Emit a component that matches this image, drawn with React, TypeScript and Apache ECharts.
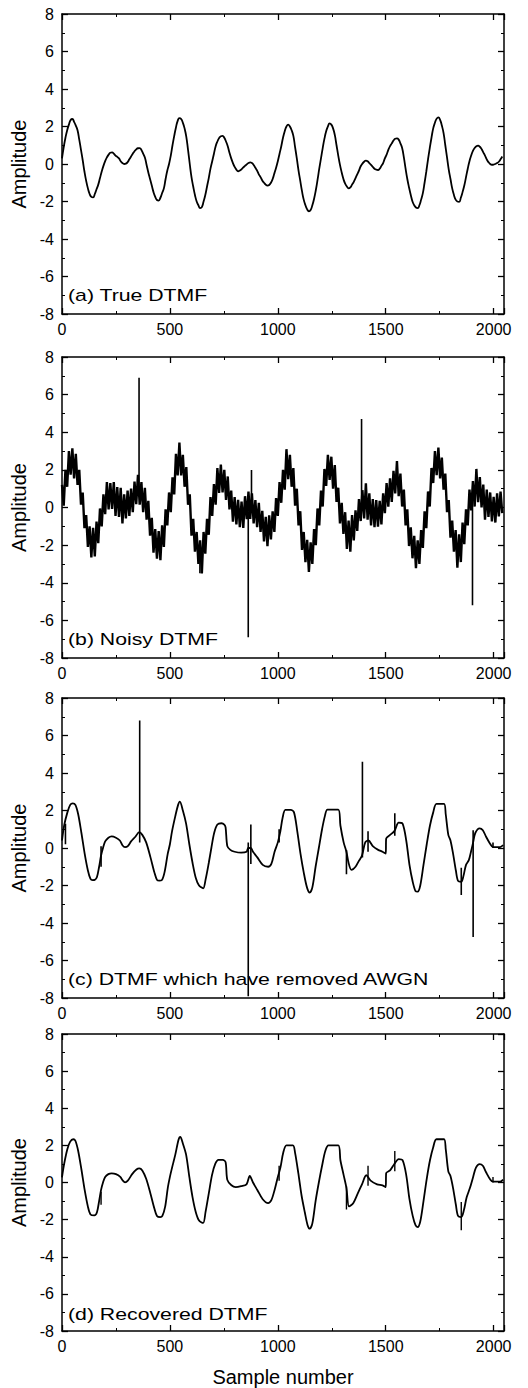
import React, { useEffect, useRef } from "react";
import * as echarts from "echarts";

// ---------- data ----------
const STEP = 8; // sample spacing of the dense arrays
const X_MAX = 2048;
const Y_TICKS = [-8, -6, -4, -2, 0, 2, 4, 6, 8];
const X_TICKS = [0, 500, 1000, 1500, 2000];

// (a) True DTMF, one value every 8 samples
const TRUE_DTMF = [
  0.3, 0.9, 1.4, 1.8, 2.1, 2.35, 2.4, 2.25, 2.05, 1.8, 1.3, 0.75, 0.2, -0.4, -0.9, -1.3,
  -1.6, -1.75, -1.78, -1.6, -1.35, -1.1, -0.75, -0.4, -0.1, 0.15, 0.35, 0.5, 0.6, 0.62, 0.55, 0.45,
  0.38, 0.3, 0.15, 0.05, 0.0, 0.02, 0.1, 0.25, 0.4, 0.55, 0.68, 0.78, 0.84, 0.85, 0.75, 0.55,
  0.35, -0.05, -0.45, -0.8, -1.15, -1.5, -1.75, -1.92, -1.95, -1.8, -1.55, -1.3, -0.8, -0.35, 0.0, 0.45,
  1.0, 1.5, 1.95, 2.3, 2.45, 2.4, 2.2, 1.9, 1.45, 0.75, 0.0, -0.7, -1.2, -1.65, -2.0, -2.2,
  -2.35, -2.3, -2.0, -1.65, -1.2, -0.75, -0.25, 0.15, 0.55, 0.95, 1.2, 1.38, 1.48, 1.5, 1.4, 1.2,
  0.95, 0.6, 0.3, 0.05, -0.15, -0.3, -0.39, -0.35, -0.28, -0.18, -0.1, -0.02, 0.05, 0.09, 0.05, -0.05,
  -0.2, -0.35, -0.55, -0.7, -0.88, -1.0, -1.1, -1.15, -1.12, -1.0, -0.8, -0.5, -0.2, 0.15, 0.55, 0.95,
  1.4, 1.75, 2.0, 2.1, 2.0, 1.8, 1.5, 0.9, 0.3, -0.35, -0.9, -1.45, -1.9, -2.2, -2.42, -2.52,
  -2.45, -2.2, -1.85, -1.4, -0.85, -0.25, 0.3, 0.85, 1.35, 1.75, 2.0, 2.17, 2.1, 1.9, 1.55, 1.0,
  0.45, -0.05, -0.45, -0.8, -1.05, -1.2, -1.3, -1.25, -1.1, -0.95, -0.75, -0.55, -0.35, -0.12, 0.02, 0.12,
  0.18, 0.15, 0.05, -0.05, -0.15, -0.25, -0.3, -0.32, -0.25, -0.1, 0.05, 0.3, 0.5, 0.75, 0.95, 1.1,
  1.25, 1.35, 1.37, 1.3, 1.1, 0.85, 0.35, -0.25, -0.8, -1.25, -1.65, -2.0, -2.2, -2.32, -2.35, -2.2,
  -1.9, -1.55, -1.0, -0.4, 0.25, 0.85, 1.4, 1.9, 2.2, 2.42, 2.49, 2.35, 2.05, 1.65, 1.0, 0.35,
  -0.3, -0.8, -1.3, -1.65, -1.9, -2.0, -2.02, -1.8, -1.5, -1.15, -0.7, -0.25, 0.15, 0.45, 0.7, 0.85,
  0.95, 0.98, 0.92, 0.8, 0.62, 0.45, 0.25, 0.1, 0.0, -0.04, -0.03, 0.0, 0.05, 0.12, 0.25, 0.4,
];

// (b) Noisy DTMF, one value every 8 samples
const NOISY_DTMF = [
  1.2, 0.1, 2.0, 1.1, 3.0, 1.75, 3.15, 1.55, 2.85, 1.2, 2.0, 0.15, 0.8, -1.1, -0.4, -2.1,
  -1.0, -2.65, -1.08, -2.6, -0.75, -1.9, -0.05, -1.0, 0.7, -0.35, 1.35, -0.1, 1.3, -0.08, 1.35, -0.45,
  1.08, -0.5, 1.05, -0.85, 0.7, -0.58, 0.9, -0.45, 1.0, -0.25, 1.38, 0.18, 1.74, 0.15, 1.35, -0.25,
  1.05, -0.65, 0.35, -1.5, -0.55, -2.4, -1.15, -2.72, -1.25, -2.8, -0.95, -2.1, -0.1, -0.95, 0.8, -0.25,
  1.6, 0.7, 2.85, 1.7, 3.45, 1.7, 2.8, 1.1, 2.15, 0.15, 0.7, -1.5, -0.6, -2.35, -1.3, -3.0,
  -1.75, -3.5, -1.3, -2.45, -0.6, -1.45, 0.55, -0.45, 1.25, 0.15, 2.1, 0.78, 2.28, 0.8, 2.0, 0.4,
  1.65, -0.1, 0.9, -0.75, 0.55, -0.9, 0.41, -1.05, 0.32, -1.08, 0.6, -0.62, 0.85, -0.61, 0.75, -0.85,
  0.4, -1.05, 0.25, -1.3, -0.18, -1.8, -0.5, -2.05, -0.42, -1.7, -0.2, -1.3, 0.5, -0.45, 1.35, 0.25,
  2.0, 0.95, 3.1, 1.5, 2.8, 1.1, 2.1, 0.1, 1.0, -0.95, -0.2, -2.25, -1.3, -2.9, -1.72, -3.42,
  -1.85, -3.0, -1.15, -2.0, -0.05, -0.95, 0.9, 0.05, 2.05, 1.15, 2.8, 1.47, 2.7, 1.0, 2.25, 0.3,
  1.05, -0.85, 0.25, -1.4, -0.25, -2.2, -0.7, -2.35, -0.4, -1.75, -0.15, -1.25, 0.45, -0.72, 0.92, -0.58,
  1.28, -0.65, 0.75, -0.95, 0.45, -1.05, 0.4, -1.02, 0.35, -0.9, 0.75, -0.3, 1.3, 0.05, 1.55, 0.3,
  1.95, 0.75, 2.47, 0.6, 1.8, 0.05, 0.95, -0.95, -0.1, -2.05, -1.05, -2.7, -1.5, -3.22, -1.75, -3.0,
  -1.2, -2.15, -0.2, -1.1, 0.85, 0.05, 2.1, 1.3, 3.0, 1.72, 3.19, 1.55, 2.65, 0.95, 1.8, -0.25,
  0.4, -1.6, -0.7, -2.35, -1.2, -3.2, -1.42, -2.9, -0.8, -1.95, -0.1, -0.95, 0.95, -0.15, 1.4, 0.05,
  2.05, 0.28, 1.62, 0.0, 1.22, -0.65, 0.95, -0.5, 0.8, -0.74, 0.57, -0.8, 0.75, -0.48, 0.85, -0.3,
];
// impulsive outliers in (b): [sample, from, to]
const NOISY_SPIKES = [
  [357, 0.9, 6.9],
  [639, -2.3, -3.5],
  [863, -0.2, -6.9],
  [878, 0.0, 2.0],
  [1388, 0.0, 4.7],
  [1902, 0.5, -5.2],
];

// (c) DTMF which have removed AWGN: [sample, amplitude]
const DENOISED = [
  [0, 0.4], [10, 1.2], [25, 1.9], [38, 2.3], [50, 2.38], [62, 2.3], [75, 1.8], [90, 0.8], [105, -0.3],
  [120, -1.2], [132, -1.65], [142, -1.71], [152, -1.7], [162, -1.55], [172, -1.0], [181, -0.4], [190, 0.0],
  [200, 0.35], [215, 0.55], [230, 0.62], [250, 0.55], [268, 0.4], [280, 0.15], [292, 0.05], [305, 0.1],
  [320, 0.35], [340, 0.6], [358, 0.85], [372, 0.7], [390, 0.3], [410, -0.5], [428, -1.3], [440, -1.7],
  [451, -1.74], [462, -1.72], [475, -1.3], [490, -0.3], [500, 0.2], [510, 0.9], [525, 1.7], [538, 2.3],
  [546, 2.47], [560, 2.0], [575, 1.3], [590, 0.2], [605, -0.8], [620, -1.6], [635, -2.0], [654, -2.15],
  [665, -1.7], [680, -0.8], [692, 0.0], [705, 0.8], [720, 1.25], [739, 1.32], [752, 1.25], [758, 1.1],
  [766, 0.1], [780, -0.1], [800, -0.2], [830, -0.25], [855, -0.2], [863, 0.0], [875, 0.0], [885, -0.2],
  [905, -0.5], [930, -0.9], [955, -1.0], [970, -0.85], [985, -0.2], [1000, 0.3], [1012, 0.9], [1022, 1.6],
  [1035, 2.03], [1060, 2.03], [1075, 1.9], [1090, 0.9], [1105, -0.3], [1120, -1.3], [1135, -2.1],
  [1148, -2.38], [1160, -2.1], [1175, -1.0], [1190, 0.0], [1205, 1.0], [1218, 1.7], [1230, 2.05],
  [1280, 2.05], [1290, 1.2], [1305, 0.3], [1318, -0.2], [1328, -0.8], [1341, -1.17], [1360, -1.0],
  [1375, -0.7], [1390, -0.4], [1405, 0.3], [1420, 0.4], [1440, 0.1], [1465, -0.1], [1485, -0.2],
  [1500, -0.3], [1502, 0.5], [1520, 0.7], [1540, 0.9], [1560, 1.35], [1578, 1.3], [1595, 0.4],
  [1610, -0.9], [1625, -1.8], [1638, -2.3], [1648, -2.33], [1660, -2.0], [1675, -0.9], [1690, 0.2],
  [1705, 1.2], [1720, 1.9], [1735, 2.35], [1770, 2.35], [1778, 1.8], [1790, 0.7], [1800, 0.4],
  [1812, -0.3], [1825, -1.2], [1835, -1.75], [1850, -1.8], [1860, -1.5], [1872, -0.9], [1885, -0.65],
  [1895, -0.2], [1905, 0.3], [1915, 0.8], [1935, 1.05], [1950, 0.95], [1965, 0.6], [1985, 0.2],
  [1997, 0.05], [2010, 0.05], [2030, 0.05], [2044, 0.15],
];
const DENOISED_SPIKES = [
  [16, 0.2, 1.3],
  [181, 0.1, -1.0],
  [360, 0.3, 6.8],
  [863, 0.3, -7.9],
  [875, 1.25, -0.85],
  [1006, 0.3, 1.0],
  [1318, -0.1, -1.4],
  [1392, -0.5, 4.6],
  [1418, -0.2, 0.9],
  [1542, 0.65, 1.85],
  [1850, -1.05, -2.5],
  [1905, 0.95, -4.75],
  [1997, 0.0, 0.3],
];

// (d) Recovered DTMF: [sample, amplitude]
const RECOVERED = [
  [0, 0.28], [10, 1.0], [25, 1.8], [38, 2.2], [52, 2.33], [62, 2.25], [75, 1.7], [90, 0.7], [105, -0.4],
  [120, -1.3], [132, -1.72], [150, -1.77], [162, -1.6], [172, -1.0], [181, -0.4], [190, 0.0], [200, 0.3],
  [215, 0.45], [230, 0.49], [250, 0.45], [270, 0.3], [282, 0.1], [292, 0.01], [305, 0.1], [325, 0.45],
  [345, 0.7], [358, 0.76], [372, 0.65], [390, 0.2], [410, -0.6], [428, -1.4], [440, -1.8], [455, -1.86],
  [465, -1.8], [478, -1.3], [490, -0.3], [500, 0.3], [510, 0.8], [525, 1.5], [540, 2.3], [548, 2.45],
  [560, 2.1], [575, 1.5], [590, 0.3], [605, -0.8], [620, -1.6], [635, -2.05], [654, -2.18], [665, -1.6],
  [680, -0.6], [695, 0.4], [710, 1.0], [725, 1.22], [745, 1.22], [758, 1.1], [766, 0.14], [785, -0.15],
  [805, -0.25], [830, -0.2], [855, -0.1], [870, 0.36], [885, 0.0], [905, -0.4], [930, -0.9], [955, -1.11],
  [970, -0.95], [985, -0.4], [1000, 0.3], [1012, 0.8], [1025, 1.6], [1040, 2.0], [1070, 2.0], [1080, 1.6],
  [1095, 0.5], [1110, -0.7], [1125, -1.6], [1138, -2.3], [1148, -2.49], [1160, -2.2], [1175, -1.0],
  [1190, 0.0], [1205, 0.9], [1220, 1.7], [1235, 2.0], [1280, 2.0], [1290, 1.2], [1305, 0.4], [1318, -0.3],
  [1330, -1.29], [1350, -1.1], [1370, -0.6], [1390, -0.1], [1410, 0.39], [1430, 0.1], [1460, -0.1],
  [1485, -0.15], [1500, -0.25], [1502, 0.5], [1520, 0.65], [1540, 1.0], [1560, 1.26], [1578, 1.2],
  [1595, 0.4], [1610, -0.9], [1625, -1.8], [1638, -2.3], [1648, -2.4], [1660, -2.1], [1675, -1.0],
  [1690, 0.2], [1705, 1.2], [1720, 1.9], [1735, 2.33], [1770, 2.33], [1778, 1.8], [1790, 0.6],
  [1800, 0.35], [1812, -0.3], [1825, -1.2], [1835, -1.8], [1850, -1.86], [1862, -1.5], [1875, -0.8],
  [1890, -0.3], [1905, 0.3], [1918, 0.8], [1935, 0.99], [1950, 0.9], [1965, 0.55], [1985, 0.15],
  [1997, 0.05], [2010, 0.05], [2030, 0.05], [2044, 0.15],
];
const RECOVERED_SPIKES = [
  [181, -1.2, -0.5],
  [1006, 0.1, 0.9],
  [1318, -0.2, -1.45],
  [1418, -0.17, 0.9],
  [1542, 0.6, 1.7],
  [1850, -1.05, -2.57],
  [1997, 0.0, 0.3],
];

const PANEL_LABELS = [
  "(a) True DTMF",
  "(b) Noisy DTMF",
  "(c) DTMF which have removed AWGN",
  "(d) Recovered DTMF",
];
const Y_NAME = "Amplitude";
const X_NAME = "Sample number";

// ---------- layout ----------
const W = 528;
const H = 1388;
const PLOT_LEFT = 62;
const PLOT_W = 442;
const PANEL_TOP = [14, 357, 698, 1034];
const PANEL_H = [300, 301, 300, 299];
const FONT = '"Liberation Sans", Arial, Helvetica, sans-serif';

const dense = (vals: number[]) => vals.map((v, i) => [i * STEP, v]);
const spikes = (list: number[][]) => {
  const out: any[] = [];
  list.forEach(([x, a, b]) => {
    out.push([x, a], [x, b], [x, "-"]);
  });
  return out;
};

export default function App() {
  const ref = useRef<HTMLDivElement>(null);

  useEffect(() => {
    if (!ref.current) return;
    const chart = echarts.init(ref.current, null, { renderer: "svg" });

    const axisLine = { show: true, onZero: false, lineStyle: { color: "#000", width: 1.5 } };
    const tick = { show: true, inside: true, length: 6, lineStyle: { color: "#000", width: 1.3 } };
    const minor = { show: true, splitNumber: 2, length: 3, lineStyle: { color: "#000", width: 1 } };

    const grids: any[] = [];
    const xAxes: any[] = [];
    const yAxes: any[] = [];
    PANEL_TOP.forEach((top, i) => {
      grids.push({ left: PLOT_LEFT, top, width: PLOT_W, height: PANEL_H[i], containLabel: false });
      const xBase = {
        type: "value",
        gridIndex: i,
        min: 0,
        max: X_MAX,
        interval: 500,
        axisLine,
        axisTick: tick,
        minorTick: minor,
        splitLine: { show: false },
      };
      xAxes.push({
        ...xBase,
        position: "bottom",
        axisLabel: {
          show: true,
          color: "#000",
          fontSize: 16,
          fontFamily: FONT,
          margin: 7,
          showMaxLabel: false,
          formatter: (v: number) => (X_TICKS.includes(v) ? String(v) : ""),
        },
        name: i === 3 ? X_NAME : "",
        nameLocation: "middle",
        nameGap: 36,
        nameTextStyle: { color: "#000", fontSize: 20, fontFamily: FONT },
      });
      xAxes.push({ ...xBase, position: "top", axisLabel: { show: false } });
      const yBase = {
        type: "value",
        gridIndex: i,
        min: -8,
        max: 8,
        interval: 2,
        axisLine,
        axisTick: tick,
        minorTick: minor,
        splitLine: { show: false },
      };
      yAxes.push({
        ...yBase,
        position: "left",
        axisLabel: {
          show: true,
          color: "#000",
          fontSize: 16,
          fontFamily: FONT,
          margin: 8,
          formatter: (v: number) => (Y_TICKS.includes(v) ? String(v) : ""),
        },
        name: Y_NAME,
        nameLocation: "middle",
        nameGap: 24,
        nameRotate: 90,
        nameTextStyle: { color: "#000", fontSize: 20, fontFamily: FONT },
      });
      yAxes.push({ ...yBase, position: "right", axisLabel: { show: false } });
    });

    const lineBase = {
      type: "line",
      showSymbol: false,
      symbol: "none",
      clip: true,
      connectNulls: false,
      silent: true,
    };
    const mk = (panel: number, data: any[], width: number, smooth: any) => ({
      ...lineBase,
      xAxisIndex: panel * 2,
      yAxisIndex: panel * 2,
      data,
      smooth,
      lineStyle: { color: "#000", width },
    });

    const series = [
      mk(0, dense(TRUE_DTMF), 1.8, true),
      mk(1, dense(NOISY_DTMF), 2.4, false),
      mk(1, spikes(NOISY_SPIKES), 1.6, false),
      mk(2, DENOISED, 1.8, 0.3),
      mk(2, spikes(DENOISED_SPIKES), 1.6, false),
      mk(3, RECOVERED, 1.8, 0.3),
      mk(3, spikes(RECOVERED_SPIKES), 1.4, false),
    ];

    const graphic = PANEL_LABELS.map((t, i) => ({
      type: "text",
      x: 68,
      y: PANEL_TOP[i] + PANEL_H[i] - 19,
      scaleX: 1.25,
      style: {
        text: t,
        fill: "#000",
        font: `17px ${FONT}`,
        verticalAlign: "middle",
        textVerticalAlign: "middle",
      },
      silent: true,
    }));

    chart.setOption({
      animation: false,
      backgroundColor: "#fff",
      grid: grids,
      xAxis: xAxes,
      yAxis: yAxes,
      series,
      graphic,
    });

    return () => chart.dispose();
  }, []);

  return (
    <div
      ref={ref}
      style={{ position: "fixed", left: 0, top: 0, width: W, height: H, background: "#fff" }}
    />
  );
}
